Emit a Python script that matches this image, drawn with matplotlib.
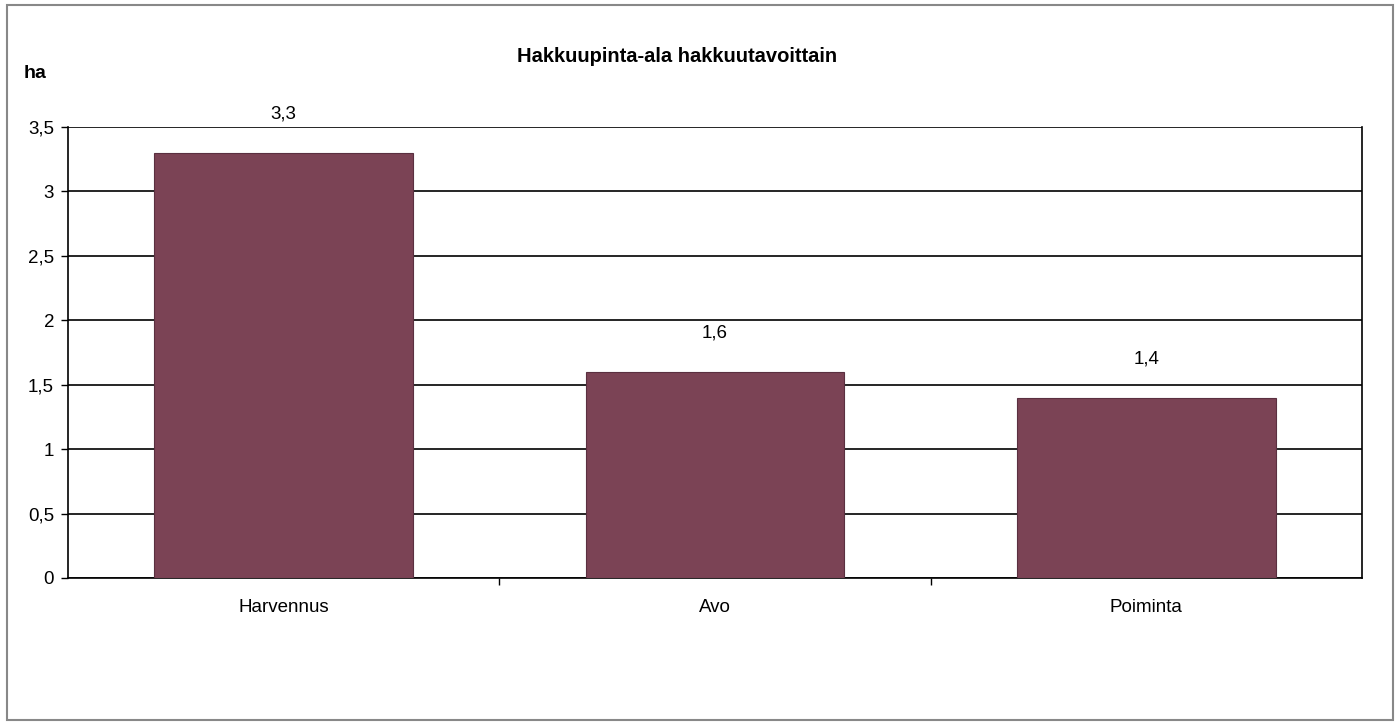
import numpy as np
import matplotlib.pyplot as plt
from matplotlib.patches import Rectangle

categories = ["Harvennus", "Avo", "Poiminta"]
values = [3.3, 1.6, 1.4]
yticks = [0, 0.5, 1, 1.5, 2, 2.5, 3, 3.5]

plt.rcParams['font.family'] = ['Liberation Sans', 'DejaVu Sans']

fig = plt.figure(figsize=(13.99, 7.23), dpi=100)
ax = fig.add_axes([68 / 1399, 1 - 578 / 723, (1362 - 68) / 1399, (578 - 127) / 723])

x = np.arange(len(categories))
bars = ax.bar(x, values, width=0.6, color="#7b4355", edgecolor="#5a3040", linewidth=0.8, zorder=3)

for xi, v in zip(x, values):
    ax.annotate(f"{v:.1f}".replace(".", ","), (xi, v), xytext=(0, 22), textcoords="offset points",
                ha="center", va="bottom", fontsize=13.5)

ax.set_xlim(-0.5, len(categories) - 0.5)
ax.set_ylim(0, 3.5)
ax.set_yticks(yticks)
ax.set_yticklabels([f"{t:g}".replace(".", ",") for t in yticks], fontsize=13.5)
ax.yaxis.grid(True, color="black", linewidth=1.2, zorder=0)
ax.set_axisbelow(True)

# category labels centred, ticks on the boundaries
ax.set_xticks(x)
ax.set_xticklabels(categories, fontsize=13.5)
ax.tick_params(axis="x", length=0, pad=15)
ax.set_xticks(np.arange(0.5, len(categories) - 0.5, 1), minor=True)
ax.tick_params(axis="x", which="minor", length=5, width=1, direction="out")
ax.tick_params(axis="y", length=5, width=1, direction="out", pad=5)

for side in ["left", "bottom", "right"]:
    ax.spines[side].set_color("black")
    ax.spines[side].set_linewidth(1.2)
ax.spines["top"].set_visible(False)

fig.text(677 / 1399, 1 - 56 / 723, "Hakkuupinta-ala hakkuutavoittain", ha="center", va="center",
         fontsize=14.5, fontweight="bold")
fig.text(35 / 1399, 1 - 73 / 723, "ha", ha="center", va="center", fontsize=14, fontweight="bold")

fig.patches.append(Rectangle((7 / 1399, 3 / 723), 1386 / 1399, 715 / 723, transform=fig.transFigure,
                             fill=False, edgecolor="#888888", linewidth=1.5))

fig.savefig("out.png", dpi=100)
